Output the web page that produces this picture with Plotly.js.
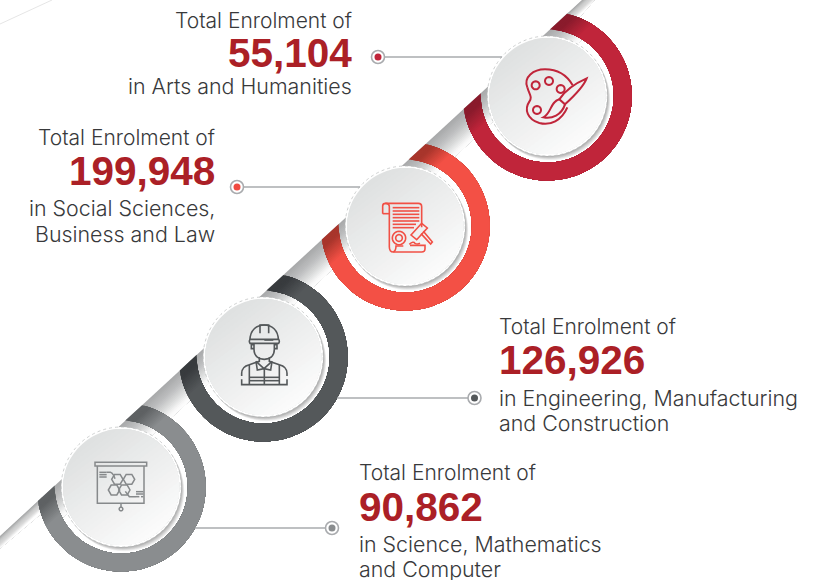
<!DOCTYPE html>
<html><head><meta charset="utf-8">
<script src="https://cdn.plot.ly/plotly-3.0.1.min.js"></script>
<style>html,body{margin:0;padding:0;background:#fff;overflow:hidden}</style>
</head><body><div id="chart" style="width:819px;height:580px"></div>
<script>
// ---- content ----
const totals = [55104, 199948, 126926, 90862];
const lead = "Total Enrolment of";
const labelLines = [
  ["in Arts and Humanities"],
  ["in Social Sciences,", "Business and Law"],
  ["in Engineering, Manufacturing", "and Construction"],
  ["in Science, Mathematics", "and Computer"]
];
// ---- styling / layout constants ----
const ringBase = ["#c0253a", "#f35045", "#54585a", "#8a8d8f"];
const ringTip  = ["#8a1b2c", "#a8352b", "#383b3e", "#5e6163"];
const dotColor = ["#c0253a", "#f04a40", "#54585a", "#8a8d8f"];
const centers  = [[547.3,96],[405.2,226],[263.2,357],[121.2,487]];
const leaderY  = [57,187,398,528];
const leaderFrom = [384,243,468,326];
const leaderTo = [502,360,337,195];
const dotX     = [378,237,474.5,332];
const textX    = [352,215,499,359];
const textAnchor = ["right","right","left","left"];
const textY    = [[20,53,86],[137,171,208,234],[326,360,398,423],[472,507,544,569]];
const FONT = "Inter, Liberation Sans, Arial, sans-serif";
const NUMFONT = "Liberation Sans, Arial, sans-serif";
const R_OUT = 84.5, R_IN = 66.5, R_DISC = 60;

// diagonal  y = 536 - 0.921 x
const nLen = Math.hypot(0.921,1), N = [0.921/nLen, 1/nLen], T = [1/nLen, -0.921/nLen];
const depth = p => (p[1] - (536 - 0.921*p[0])) / nLen;
const shapes = [];

function toPath(pts){ return "M"+pts.map(p=>p[0].toFixed(2)+" "+p[1].toFixed(2)).join("L")+"Z"; }
function fillShape(pts,col){ shapes.push({type:"path",xref:"x",yref:"y",layer:"below",path:toPath(pts),fillcolor:col,line:{width:0}}); }
function strokeShape(path,col,w){ shapes.push({type:"path",xref:"x",yref:"y",layer:"below",path:path,fillcolor:"rgba(0,0,0,0)",line:{color:col,width:w}}); }
function circlePts(c,r,n){ const a=[]; n=n||96; for(let i=0;i<n;i++){const t=2*Math.PI*i/n; a.push([c[0]+r*Math.cos(t),c[1]+r*Math.sin(t)]);} return a; }
function clipHalf(pts,fn,t){ // keep fn(p)>=t
  const out=[];
  for(let i=0;i<pts.length;i++){
    const a=pts[i],b=pts[(i+1)%pts.length],da=fn(a)-t,db=fn(b)-t;
    if(da>=0) out.push(a);
    if((da>=0)!==(db>=0)){const k=da/(da-db); out.push([a[0]+(b[0]-a[0])*k,a[1]+(b[1]-a[1])*k]);}
  }
  return out;
}
function hex2(c){return [1,3,5].map(i=>parseInt(c.substr(i,2),16));}
function mix(stops,t){
  if(t<=stops[0][0]) return stops[0][1];
  for(let i=1;i<stops.length;i++){
    if(t<=stops[i][0]){
      const k=(t-stops[i-1][0])/(stops[i][0]-stops[i-1][0]),a=hex2(stops[i-1][1]),b=hex2(stops[i][1]);
      return "rgb("+a.map((v,j)=>Math.round(v+(b[j]-v)*k)).join(",")+")";
    }
  }
  return stops[stops.length-1][1];
}
function gradFill(pts,fn,stops,n){
  const t0=stops[0][0],t1=stops[stops.length-1][0];
  for(let i=0;i<n;i++){
    const t=t0+(t1-t0)*i/(n-1);
    const c=clipHalf(pts,fn,t);
    if(c.length>2) fillShape(c,mix(stops,t));
  }
}
const offs = (p,d)=>[p[0]+d*N[0],p[1]+d*N[1]];

// faint corner rule
shapes.push({type:"line",xref:"x",yref:"y",layer:"below",x0:0,y0:24,x1:52,y1:0,line:{color:"#e6e6e6",width:1}});

// ribbon
const bandStops=[[0,"#a9aaab"],[9,"#bcbdbe"],[17,"#d8d9d9"],[25,"#f8f8f8"],[29,"#ffffff"]];
function ribbon(a,b,w0,w1,stops){ gradFill([a,b,offs(b,w1),offs(a,w0)],depth,stops,20); }
const tailStops=[[0,"#a6a7a8"],[3,"#c9caca"],[6,"#dadada"],[9,"#ffffff"]];
// lower-left and upper-right tails
ribbon([-8,536+8*0.921],[42,536-42*0.921],9,12,tailStops);
ribbon([566,536-566*0.921],[592,536-592*0.921],12,8,tailStops);
ribbon([40,536-40*0.921],[568,536-568*0.921],29,29,bandStops);

// rings
centers.forEach((c,i)=>{
  const d=depth(c);
  const tO=Math.acos(-d/R_OUT), tI=Math.acos(-d/R_IN), base=Math.atan2(N[1],N[0]);
  const pts=[]; const m=80;
  for(let k=0;k<=m;k++){const a=base-tO+2*tO*k/m; pts.push([c[0]+R_OUT*Math.cos(a),c[1]+R_OUT*Math.sin(a)]);}
  for(let k=m;k>=0;k--){const a=base-tI+2*tI*k/m; pts.push([c[0]+R_IN*Math.cos(a),c[1]+R_IN*Math.sin(a)]);}
  gradFill(pts,depth,[[0,ringTip[i]],[6,ringTip[i]],[24,ringBase[i]]],16);
});

// discs
const discDir=p=>p[0]*0.6+p[1]*0.8;
centers.forEach((c)=>{
  const L=7;
  for(let k=L;k>=1;k--){
    const f=k/L, g=Math.round(0x9c+(0xf6-0x9c)*f);
    fillShape(circlePts([c[0]+f*3.4,c[1]+f*4.6],R_DISC-0.3,72),"rgb("+g+","+g+","+g+")");
  }
  shapes.push({type:"circle",xref:"x",yref:"y",layer:"below",x0:c[0]-R_DISC,x1:c[0]+R_DISC,y0:c[1]-R_DISC,y1:c[1]+R_DISC,fillcolor:"#ffffff",line:{color:"#b9bbbb",width:0.7,dash:"dot"}});
  const dc=discDir(c);
  gradFill(circlePts(c,58,96),discDir,[[dc-58,"#dfe1e1"],[dc+58,"#fcfcfc"]],26);
});

// icons: drawn in the zoomed crop's 3x grid, offset to the page
function mapPath(s,ox,oy){
  let isX=true;
  return s.replace(/-?\d+(\.\d+)?/g,m=>{const v=isX?ox+ +m/3:oy+ +m/3; isX=!isX; return v.toFixed(2);});
}
function circ3(cx,cy,r,n){ return toPath(circlePts([cx,cy],r,n||24)); }
function hex3(cx,cy,r){ const a=[]; for(let i=0;i<6;i++){const t=Math.PI/3*i; a.push([cx+r*Math.cos(t),cy+r*Math.sin(t)]);} return toPath(a); }
function icon(list,ox,oy,col,w){ list.forEach(s=>strokeShape(mapPath(s,ox,oy),col,w)); }

icon([
 "M232 262C220 232 250 208 285 208C325 208 352 228 368 256",
 "M232 262C238 285 248 290 238 305C222 328 232 358 268 369C300 378 335 362 352 322",
 "M410 235C380 248 345 272 328 298L345 313C370 290 400 262 410 235Z",
 "M328 298C300 305 305 340 280 352C305 358 335 345 345 313",
 circ3(257,256,12),circ3(297,243,12),circ3(332,267,12),circ3(261,330,12)
],450,0,"#c0253a",2);

icon([
 "M226 190L325 190Q335 190 335 200L335 262",
 "M218 221L218 198Q218 190 227 190Q238 190 238 200L238 320Q238 336 250 336L335 336Q345 336 345 326L345 316L300 316",
 "M218 221L238 221",
 "M250 336Q258 332 258 318L280 318",
 "M248 203L328 203","M248 213L328 213","M248 223L328 223","M248 233L328 233","M248 243L328 243","M248 253L318 253","M248 263L312 263",
 circ3(267,294,20),circ3(267,294,10),
 "M303 285L335 250L352 264L320 299Z",
 "M333 281L362 312L367 306L340 274",
 "M298 313Q310 302 315 310Q322 314 330 310"
],310,140,"#f15045",1.6);

icon([
 "M240 210C240 180 260 165 283 165C305 165 325 180 325 210",
 "M270 190L270 165L296 165L296 190",
 "M240 208L326 208Q330 214 326 220L240 220Q236 214 240 208Z",
 "M283 210L310 210",
 "M252 220L252 238C252 260 268 268 283 268C298 268 313 260 313 238L313 220",
 "M252 224L244 224L244 236L252 236","M313 224L321 224L321 236L313 236",
 "M268 262L268 274L238 284C222 288 215 295 215 310L215 318",
 "M298 262L298 274L328 284C344 288 351 295 351 310L351 318",
 "M215 328L215 344L351 344L351 328",
 "M258 274L282 296L306 274","M258 274L262 300L282 296L302 300L306 274",
 "M238 284L238 344","M328 284L328 344","M283 296L283 344","M238 322L328 322","M238 332L328 332"
],170,270,"#54585a",1.6);

icon([
 "M285 187L440 187L440 198L285 198Z",
 "M292 198L292 310L432 310L432 198",
 "M363 310L363 321",circ3(363,327,5.5,16),
 hex3(352,238,17),hex3(387,238,17),hex3(342,270,17),hex3(373,270,17),
 "M298 217L320 217","M298 224L320 224","M298 231L320 231",
 "M320 217L332 217Q340 220 345 236",
 "M376 274L388 290L408 290",
 "M408 275L430 275","M408 282L430 282","M408 290L418 290","M423 290L430 290"
],0,400,"#86898b",1.5);

// leader lines and dots
const traces=[];
centers.forEach((c,i)=>{
  traces.push({type:"scatter",mode:"lines",x:[leaderFrom[i],leaderTo[i]],y:[leaderY[i],leaderY[i]],line:{color:"#a9abae",width:1.5},hoverinfo:"skip"});
});
traces.push({type:"scatter",mode:"markers",x:dotX,y:leaderY,marker:{size:13,color:"#ffffff",line:{color:"#a9abae",width:1.6}},hoverinfo:"skip"});
traces.push({type:"scatter",mode:"markers",x:dotX,y:leaderY,marker:{size:7,color:dotColor},hoverinfo:"skip"});

// text
const annotations=[];
function txt(x,y,text,anchor,size,col,bold){
  annotations.push({xref:"x",yref:"y",x:x,y:y,text:text,showarrow:false,xanchor:anchor,yanchor:"middle",borderpad:0,
    font:{family:bold?NUMFONT:FONT,size:size,color:col,weight:bold?700:300}});
}
totals.forEach((v,i)=>{
  const ys=textY[i],a=textAnchor[i];
  const x = textX[i] + (a==="left" ? -1 : 1);
  const nx = textX[i] + (a==="left" ? -1.5 : 1);
  txt(x,ys[0],lead,a,21,"#38393b",false);
  txt(nx,ys[1],v.toLocaleString("en-US"),a,40.5,"#ab2026",true);
  labelLines[i].forEach((l,k)=>txt(x,ys[2+k],l,a,21.4,"#38393b",false));
});

Plotly.newPlot("chart",traces,{
  width:819,height:580,margin:{l:0,r:0,t:0,b:0},showlegend:false,
  paper_bgcolor:"#ffffff",plot_bgcolor:"#ffffff",
  xaxis:{range:[0,819],visible:false,fixedrange:true},
  yaxis:{range:[580,0],visible:false,fixedrange:true},
  shapes:shapes,annotations:annotations
},{displayModeBar:false,staticPlot:true});
</script></body></html>
